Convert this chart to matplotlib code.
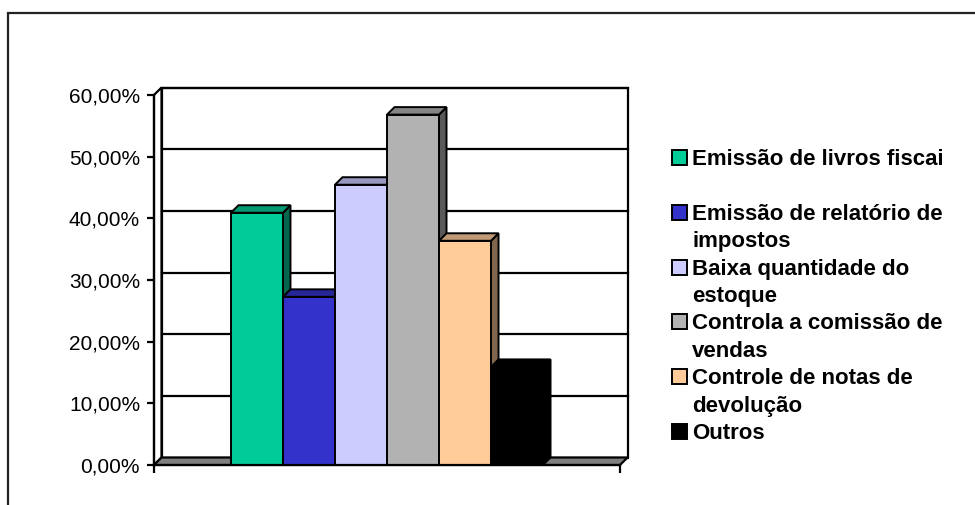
import matplotlib
matplotlib.use("Agg")
import matplotlib.pyplot as plt
from matplotlib.colors import to_rgb
from matplotlib.patches import Polygon, Rectangle
from matplotlib.ticker import FuncFormatter

# data
categories = ["Emissão de livros fiscai\n", "Emissão de relatório de\nimpostos",
              "Baixa quantidade do\nestoque", "Controla a comissão de\nvendas",
              "Controle de notas de\ndevolução", "Outros"]
values = [40.91, 27.27, 45.45, 56.82, 36.36, 15.91]
colors = ["#00CC99", "#3333CC", "#CCCCFF", "#B2B2B2", "#FFCC99", "#000000"]
yticks = [0, 10, 20, 30, 40, 50, 60]

W, H = 975, 505
plt.rcParams['font.family'] = ['Liberation Sans', 'DejaVu Sans']
fig = plt.figure(figsize=(W / 100, H / 100), dpi=100)


def fx(x):
    return x / W


def fy(y):
    return 1 - y / H


# front plane of the pseudo-3d chart
ax = fig.add_axes([fx(154), fy(465), (620 - 154) / W, (465 - 95) / H])
x0, x1 = -1.48, 7.48
ax.set_xlim(x0, x1)
ax.set_ylim(0, 60)
ax.patch.set_visible(False)

# depth offset (pixels) converted into data units
depth = 7.5
p0 = ax.transData.transform((0, 0))
p1 = ax.transData.transform((1, 1))
dx = depth / (p1[0] - p0[0])
dy = depth / (p1[1] - p0[1])

lw = 1.6

# walls and floor
ax.add_patch(Rectangle((x0 + dx, dy), x1 - x0, 60, facecolor='white',
                       edgecolor='black', lw=lw, zorder=0, clip_on=False))
ax.add_patch(Polygon([(x0, 0), (x0 + dx, dy), (x0 + dx, 60 + dy), (x0, 60)],
                     facecolor='white', edgecolor='black', lw=lw, zorder=0, clip_on=False))
for t in yticks[1:]:
    ax.plot([x0 + dx, x1 + dx], [t + dy, t + dy], color='black', lw=lw,
            zorder=0.5, clip_on=False)
ax.add_patch(Polygon([(x0, 0), (x1, 0), (x1 + dx, dy), (x0 + dx, dy)],
                     facecolor='#808080', edgecolor='black', lw=lw, zorder=1, clip_on=False))

# bar tops and sides, then fronts
for i, (v, c) in enumerate(zip(values, colors)):
    r, g, b = to_rgb(c)
    side = (r * 0.5, g * 0.5, b * 0.5)
    top = (r * 0.75, g * 0.75, b * 0.75)
    ax.add_patch(Polygon([(i + 1, 0), (i + 1 + dx, dy), (i + 1 + dx, v + dy), (i + 1, v)],
                         facecolor=side, edgecolor='black', lw=1.4, zorder=2, clip_on=False))
    ax.add_patch(Polygon([(i, v), (i + 1, v), (i + 1 + dx, v + dy), (i + dx, v + dy)],
                         facecolor=top, edgecolor='black', lw=1.4, zorder=2, clip_on=False))
ax.bar(range(len(values)), values, width=1, align='edge', color=colors,
       edgecolor='black', lw=1.4, zorder=3, clip_on=False)

# axes
for s in ['top', 'right']:
    ax.spines[s].set_visible(False)
ax.spines['left'].set_linewidth(lw)
ax.spines['bottom'].set_linewidth(lw)
ax.spines['left'].set_zorder(4)
ax.spines['bottom'].set_zorder(4)
ax.set_yticks(yticks)
ax.yaxis.set_major_formatter(FuncFormatter(lambda v, p: f"{v:.2f}".replace('.', ',') + '%'))
ax.tick_params(axis='y', direction='out', length=5, width=lw, pad=5, labelsize=15)
ax.set_xticks([x0, x1])
ax.set_xticklabels([])
ax.tick_params(axis='x', direction='out', length=6, width=lw)

# legend drawn by hand
line_h = 27.4
row = 0
for lab, c in zip(categories, colors):
    ybase = 158 + row * line_h + 7
    fig.patches.append(Rectangle((fx(672), fy(ybase)), 15 / W, 15 / H,
                                 transform=fig.transFigure, facecolor=c,
                                 edgecolor='black', lw=1.4))
    for k, part in enumerate(lab.split('\n')):
        fig.text(fx(692), fy(ybase + k * line_h), part, fontsize=16,
                 fontweight='bold', va='baseline', ha='left')
    row += len(lab.split('\n'))

# outer frame
fig.patches.append(Rectangle((fx(8), fy(H + 20)), 1.0, (H + 20 - 13) / H,
                             transform=fig.transFigure, fill=False,
                             edgecolor='#222222', lw=1.6))

fig.savefig('out.png', dpi=100)
